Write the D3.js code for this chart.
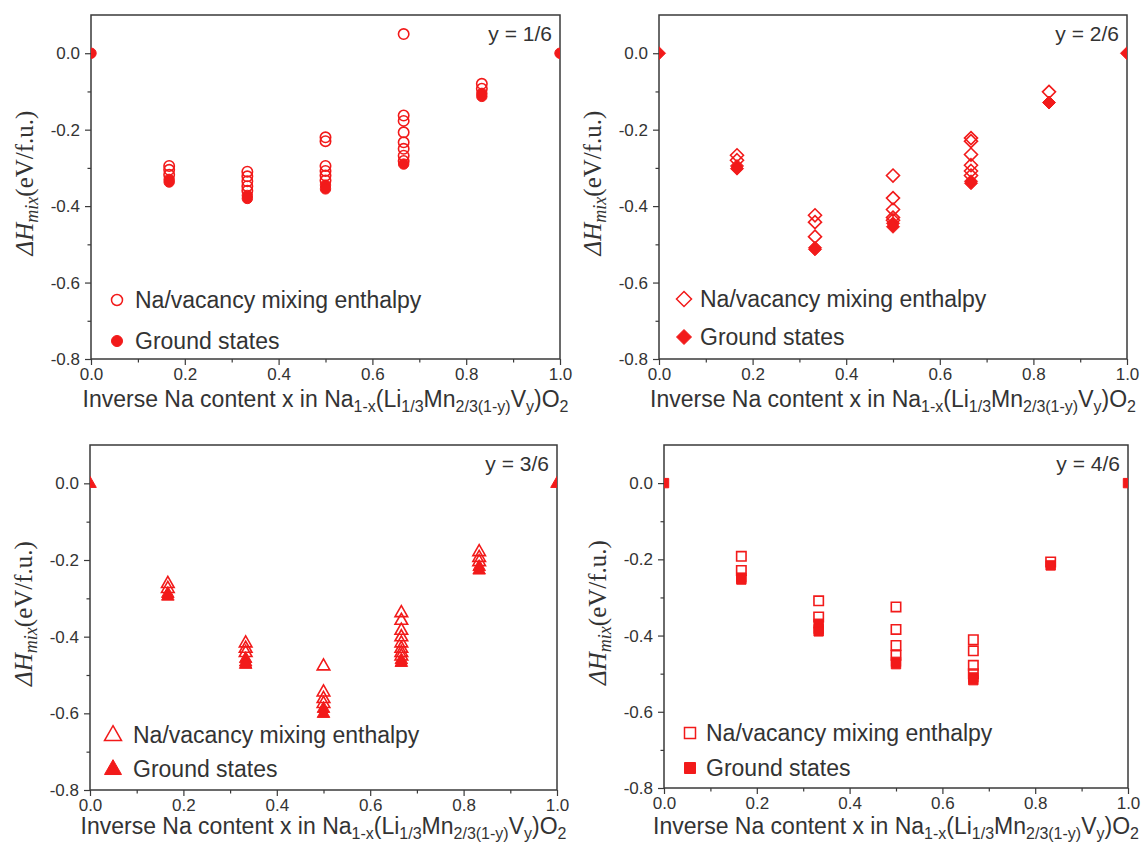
<!DOCTYPE html>
<html>
<head>
<meta charset="utf-8">
<script src="https://cdn.jsdelivr.net/npm/d3@7"></script>
<style>
  body { margin: 0; background: #fff; }
  text { font-family: "Liberation Sans", Arial, sans-serif; fill: #333; }
</style>
</head>
<body>
<div id="chart"></div>
<script>
// Data
const compositions = [0, 1/6, 2/6, 3/6, 4/6, 5/6, 1];
const xTicks = [0, 0.2, 0.4, 0.6, 0.8, 1.0];
const xMinor = [0.1, 0.3, 0.5, 0.7, 0.9];
const yTicks = [0, -0.2, -0.4, -0.6, -0.8];
const yMinor = [-0.1, -0.3, -0.5, -0.7];
const panelLabels = ["y = 1/6", "y = 2/6", "y = 3/6", "y = 4/6"];
const markerShapes = ["circle", "diamond", "triangle", "square"];
const legendLabels = ["Na/vacancy mixing enthalpy", "Ground states"];

// one list of energies per composition (eV/f.u.)
const mixingY1 = [[], [-0.295, -0.305, -0.318], [-0.31, -0.322, -0.335, -0.348, -0.36],
  [-0.22, -0.23, -0.295, -0.308, -0.32, -0.333], [0.05, -0.163, -0.177, -0.207, -0.233, -0.25, -0.268, -0.282],
  [-0.08, -0.093], []];
const groundY1 = [[0], [-0.33, -0.337], [-0.372, -0.38], [-0.345, -0.355], [-0.29], [-0.105, -0.113], [0]];

const mixingY2 = [[], [-0.267, -0.28], [-0.424, -0.442, -0.48], [-0.32, -0.379, -0.409, -0.43, -0.437],
  [-0.222, -0.23, -0.265, -0.293, -0.308, -0.32], [-0.101], []];
const groundY2 = [[0], [-0.295, -0.302], [-0.509, -0.513], [-0.445, -0.454], [-0.335, -0.34], [-0.129], [0]];

const mixingY3 = [[], [-0.261, -0.274], [-0.416, -0.43, -0.441], [-0.476, -0.544, -0.561, -0.574],
  [-0.337, -0.357, -0.383, -0.4, -0.416, -0.43, -0.441, -0.45], [-0.178, -0.193, -0.204], []];
const groundY3 = [[0], [-0.287, -0.294], [-0.457, -0.466, -0.472], [-0.587, -0.6], [-0.46, -0.467], [-0.217, -0.226], [0]];

const mixingY4 = [[], [-0.192, -0.229], [-0.309, -0.351], [-0.325, -0.384, -0.426, -0.452],
  [-0.411, -0.44, -0.478, -0.5], [-0.207], []];
const groundY4 = [[0], [-0.248, -0.253], [-0.369, -0.383, -0.389], [-0.469, -0.475], [-0.51, -0.517], [-0.216], [0]];

const mixingSets = [mixingY1, mixingY2, mixingY3, mixingY4];
const groundSets = [groundY1, groundY2, groundY3, groundY4];

// panel frames on the page
const frames = [
  { left: 91, right: 560, top: 15, bottom: 359, legX: 117, legTx: 135, legY: [300, 341], titleY: 407 },
  { left: 659, right: 1127, top: 15, bottom: 359, legX: 684, legTx: 700, legY: [299, 337], titleY: 407 },
  { left: 90, right: 557, top: 445, bottom: 790, legX: 113, legTx: 133, legY: [735, 769], titleY: 834 },
  { left: 664, right: 1128, top: 445, bottom: 788, legX: 690, legTx: 706, legY: [733, 768], titleY: 834 }
];

const red = "#f21a1a";
const axisColor = "#3a3a3a";
const W = 1144, H = 850;

const svg = d3.select("#chart").append("svg")
  .attr("width", W)
  .attr("height", H);

function markerPath(shape, s) {
  if (shape === "circle") return d3.symbol(d3.symbolCircle, Math.PI * s * s)();
  if (shape === "square") return d3.symbol(d3.symbolSquare, 4 * s * s)();
  if (shape === "diamond") return `M0,${-s}L${s},0L0,${s}L${-s},0Z`;
  // triangle pointing up
  return `M0,${-s * 1.1}L${s},${s * 0.65}L${-s},${s * 0.65}Z`;
}

const dataSize = { circle: 5.2, diamond: 6.5, triangle: 6.3, square: 4.7 };
const legendSize = { circle: 5.5, diamond: 7.5, triangle: 8.5, square: 5.5 };

const xTitleParts = [
  ["Inverse Na content x in Na", false], ["1-x", true], ["(Li", false], ["1/3", true],
  ["Mn", false], ["2/3(1-y)", true], ["V", false], ["y", true], [")O", false], ["2", true]
];

frames.forEach((f, i) => {
  const shape = markerShapes[i];
  const x = d3.scaleLinear().domain([0, 1]).range([f.left, f.right]);
  const y = d3.scaleLinear().domain([-0.8, 0.1]).range([f.bottom, f.top]);
  const g = svg.append("g");

  // clip so end points are cut by the frame
  const clipId = "clip" + i;
  svg.append("clipPath").attr("id", clipId)
    .append("rect")
    .attr("x", f.left).attr("y", f.top)
    .attr("width", f.right - f.left).attr("height", f.bottom - f.top);

  // axes
  g.append("g")
    .attr("transform", `translate(0,${f.bottom})`)
    .call(d3.axisBottom(x).tickValues(xTicks).tickSize(6).tickPadding(3).tickFormat(d => d.toFixed(1)))
    .call(a => a.select(".domain").remove())
    .call(a => a.selectAll("text").style("font-size", "17px").attr("fill", "#333"))
    .call(a => a.selectAll("line").attr("stroke", axisColor).attr("stroke-width", 1.2));
  g.append("g")
    .attr("transform", `translate(0,${f.bottom})`)
    .call(d3.axisBottom(x).tickValues(xMinor).tickSize(3.5).tickFormat(""))
    .call(a => a.select(".domain").remove())
    .call(a => a.selectAll("line").attr("stroke", axisColor).attr("stroke-width", 1.2));
  g.append("g")
    .attr("transform", `translate(${f.left},0)`)
    .call(d3.axisLeft(y).tickValues(yTicks).tickSize(6).tickPadding(5).tickFormat(d => d.toFixed(1)))
    .call(a => a.select(".domain").remove())
    .call(a => a.selectAll("text").style("font-size", "17px").attr("fill", "#333"))
    .call(a => a.selectAll("line").attr("stroke", axisColor).attr("stroke-width", 1.2));
  g.append("g")
    .attr("transform", `translate(${f.left},0)`)
    .call(d3.axisLeft(y).tickValues(yMinor).tickSize(3.5).tickFormat(""))
    .call(a => a.select(".domain").remove())
    .call(a => a.selectAll("line").attr("stroke", axisColor).attr("stroke-width", 1.2));

  // frame
  g.append("rect")
    .attr("x", f.left).attr("y", f.top)
    .attr("width", f.right - f.left).attr("height", f.bottom - f.top)
    .attr("fill", "none")
    .attr("stroke", axisColor)
    .attr("stroke-width", 1.5);

  // points
  const mixPts = [], groundPts = [];
  compositions.forEach((c, k) => {
    mixingSets[i][k].forEach(v => mixPts.push({ c, v }));
    groundSets[i][k].forEach(v => groundPts.push({ c, v }));
  });

  const pts = g.append("g").attr("clip-path", `url(#${clipId})`);
  pts.selectAll("path.mix")
    .data(mixPts)
    .enter()
    .append("path")
    .attr("class", "mix")
    .attr("d", markerPath(shape, dataSize[shape]))
    .attr("transform", d => `translate(${x(d.c)},${y(d.v)})`)
    .attr("fill", "none")
    .attr("stroke", red)
    .attr("stroke-width", 1.6);
  pts.selectAll("path.gs")
    .data(groundPts)
    .enter()
    .append("path")
    .attr("class", "gs")
    .attr("d", markerPath(shape, dataSize[shape]))
    .attr("transform", d => `translate(${x(d.c)},${y(d.v)})`)
    .attr("fill", red)
    .attr("stroke", red)
    .attr("stroke-width", 1);

  // panel label
  g.append("text")
    .attr("x", f.right - 8)
    .attr("y", f.top + 26)
    .attr("text-anchor", "end")
    .style("font-size", "21px")
    .text(panelLabels[i]);

  // legend
  legendLabels.forEach((lab, j) => {
    g.append("path")
      .attr("d", markerPath(shape, legendSize[shape]))
      .attr("transform", `translate(${f.legX},${f.legY[j]})`)
      .attr("fill", j === 0 ? "none" : red)
      .attr("stroke", red)
      .attr("stroke-width", j === 0 ? 1.5 : 1);
    g.append("text")
      .attr("x", f.legTx)
      .attr("y", f.legY[j] + 8)
      .style("font-size", "23px")
      .text(lab);
  });

  // x axis title with subscripts
  const xt = g.append("text")
    .attr("x", (f.left + f.right) / 2)
    .attr("y", f.titleY)
    .attr("text-anchor", "middle")
    .style("font-size", "23px");
  let shift = 0;
  xTitleParts.forEach(([s, sub]) => {
    const target = sub ? 5 : 0;
    xt.append("tspan")
      .attr("dy", target - shift)
      .style("font-size", sub ? "16px" : "23px")
      .text(s);
    shift = target;
  });

  // y axis title
  const yt = g.append("text")
    .attr("transform", `translate(${f.left - 58},${(f.top + f.bottom) / 2 - 4}) rotate(-90)`)
    .attr("text-anchor", "middle")
    .style("font-family", "'Liberation Serif', 'Times New Roman', serif")
    .style("font-size", "25px");
  yt.append("tspan").style("font-style", "italic").text("ΔH");
  yt.append("tspan").style("font-style", "italic").style("font-size", "18px").attr("dy", 5).text("mix");
  yt.append("tspan").attr("dy", -5).text("(eV/f.u.)");
});
</script>
</body>
</html>
